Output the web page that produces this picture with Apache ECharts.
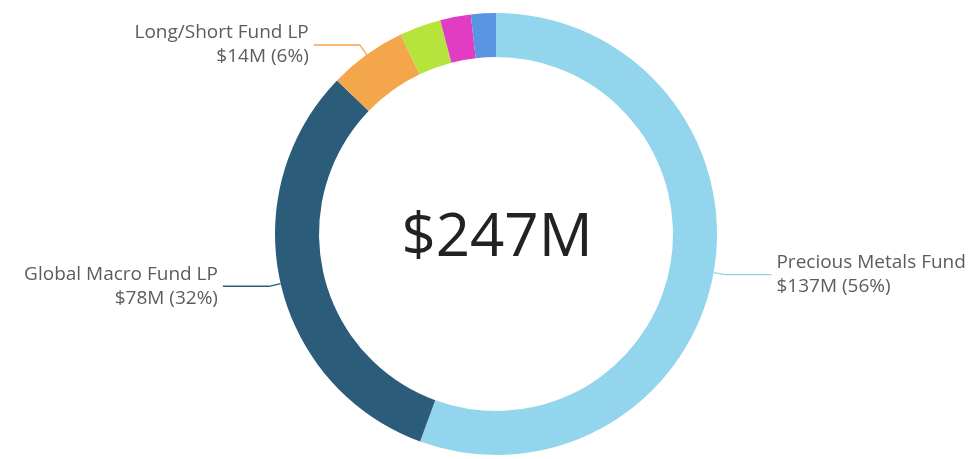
<!DOCTYPE html>
<html>
<head>
<meta charset="utf-8">
<script src="https://cdn.jsdelivr.net/npm/echarts@6/dist/echarts.min.js"></script>
<style>
html,body{margin:0;padding:0;background:#fff;}
#chart{width:977px;height:459px;}
</style>
</head>
<body>
<div id="chart"></div>
<script>
const names = ['Precious Metals Fund', 'Global Macro Fund LP', 'Long/Short Fund LP', 'Fund D', 'Fund E', 'Fund F'];
const values = [137, 78, 14, 7.5, 5.5, 4.5];
const percentLabels = ['56%', '32%', '6%', '', '', ''];
const showLabel = [true, true, true, false, false, false];
const colors = ['#93d5ec', '#2b5c7a', '#f4a64b', '#b6e33c', '#e03dc2', '#5b95e2'];
const totalLabel = '$247M';

const chart = echarts.init(document.getElementById('chart'), null, {renderer: 'canvas'});
const data = names.map((n, i) => ({
  name: n,
  value: values[i],
  itemStyle: {color: colors[i]},
  label: {show: showLabel[i]},
  labelLine: {show: showLabel[i]}
}));

chart.setOption({
  animation: false,
  graphic: [{
    type: 'text',
    x: 497, y: 239,
    style: {
      text: totalLabel,
      fill: '#222',
      font: '60px "Open Sans"',
      textAlign: 'center',
      textVerticalAlign: 'middle'
    }
  }],
  series: [{
    type: 'pie',
    center: [496, 234],
    radius: [177, 221],
    startAngle: 90,
    clockwise: true,
    avoidLabelOverlap: false,
    data: data,
    label: {
      position: 'outside',
      fontFamily: 'Open Sans',
      fontSize: 19,
      lineHeight: 24,
      color: '#5c5c5c',
      formatter: p => p.name + '\n$' + p.value + 'M (' + percentLabels[p.dataIndex] + ')'
    },
    labelLine: {
      length: 12,
      length2: 46,
      lineStyle: {width: 1.3}
    }
  }]
});
</script>
</body>
</html>
